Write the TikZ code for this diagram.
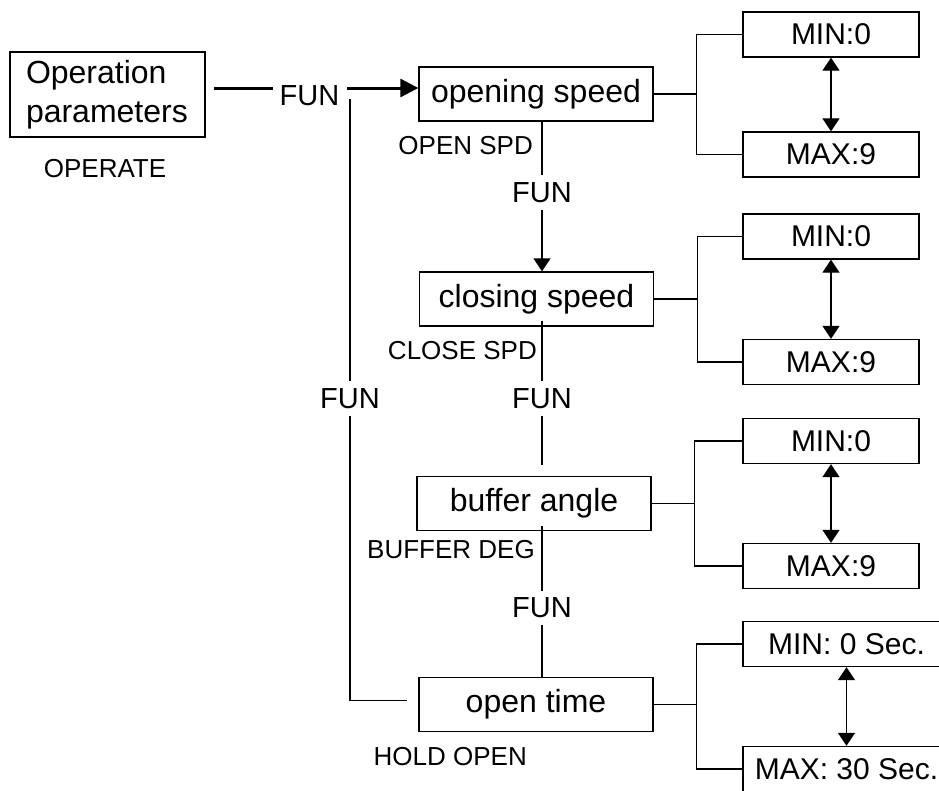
\documentclass[tikz,border=0pt]{standalone}
\usepackage{fontspec}
\setmainfont{Liberation Sans}
\usetikzlibrary{arrows.meta}
\usetikzlibrary{calc}
\tikzset{plainbox/.style = {draw, line width=1.3pt, inner sep=0},
  stepbox/.style = {plainbox, minimum width=234pt, minimum height=54pt, font=\fontsize{32}{39}\selectfont},
  limbox/.style = {plainbox, minimum width=176pt, minimum height=45pt, font=\fontsize{30}{36}\selectfont},
  lbl/.style = {inner sep=0, font=\fontsize{26}{31}\selectfont},
  fun/.style = {inner xsep=0, inner ysep=7pt, font=\fontsize{29}{35}\selectfont},
  wire/.style = {line width=1.2pt},
  heavy/.style = {line width=3pt},
  tip/.style = {-{Triangle[length=13pt,width=17pt]}},
  dbl/.style = {{Triangle[length=13pt,width=17pt]}-{Triangle[length=13pt,width=17pt]}}}

\begin{document}
\begin{tikzpicture}[x=1pt, y=-1pt]
  \useasboundingbox (0,0) rectangle (939,790);
  \clip (0,0) rectangle (939,790);

  \node [plainbox, minimum width=195pt, minimum height=85pt, text width=163pt, inner xsep=16pt,
    align=left, font=\fontsize{32}{39}\selectfont] (op) at (107.5,94.5) {Operation\\parameters};
  \node [lbl] (operate) at (105,169) {OPERATE};
  \node [fun, inner xsep=7pt] (fun1) at (309.5,96) {FUN};

  % main steps
  \node [stepbox] (opening) at (536,94) {opening speed};
  \node [stepbox] (closing) at (536.5,299) {closing speed};
  \node [stepbox] (buffer) at (534,503.5) {buffer angle};
  \node [stepbox] (opentime) at (536,704.5) {open time};

  \node [lbl, anchor=east] (openlbl) at (533,146) {OPEN SPD};
  \node [lbl, anchor=east] (closelbl) at (537,351) {CLOSE SPD};
  \node [lbl, anchor=east] (bufferlbl) at (535,550) {BUFFER DEG};
  \node [lbl, anchor=east] (holdlbl) at (527,757) {HOLD OPEN};

  \node [fun] (fun2) at (542,192.5) {FUN};
  \node [fun] (fun3) at (542,398.5) {FUN};
  \node [fun] (fun4) at (542,608) {FUN};
  \node [fun] (fun5) at (350,398.5) {FUN};

  % limits
  \node [limbox] (min1) at (831,34.5) {MIN:0};
  \node [limbox] (max1) at (831,154.5) {MAX:9};
  \node [limbox] (min2) at (831,236.5) {MIN:0};
  \node [limbox] (max2) at (831,362) {MAX:9};
  \node [limbox] (min3) at (831,441) {MIN:0};
  \node [limbox] (max3) at (831,566) {MAX:9};
  \node [limbox, minimum width=207pt] (min4) at (846.5,644) {MIN: 0 Sec.};
  \node [limbox, minimum width=207pt] (max4) at (846.5,769) {MAX: 30 Sec.};

  \draw [heavy, shorten <=8pt] ([yshift=6.5pt]op.east) -- ([yshift=8pt]fun1.west);
  \draw [heavy, -{Triangle[length=18pt,width=18pt]}] ([yshift=8pt]fun1.east) -- ([yshift=6pt]opening.west);

  \draw [wire] (opening.south -| fun2) -- (fun2.north);
  \draw [wire, tip] (fun2.south) -- (closing.north -| fun2);
  \draw [wire] ($(closing.south -| fun3)+(0,-6)$) -- (fun3.north);
  \draw [wire, shorten >=11pt] (fun3.south) -- (buffer.north -| fun3);
  \draw [wire] ($(buffer.south -| fun4)+(0,-5)$) -- (fun4.north);
  \draw [wire] (fun4.south) -- (opentime.north -| fun4);

  % back to the first step
  \coordinate (top) at (350,99);
  \draw [wire] (fun5.north) -- (top);
  \draw [wire, shorten >=11pt] (fun5.south) |- ([yshift=4pt]opentime.west);

  \foreach \s/\lo/\hi in {opening/min1/max1, closing/min2/max2, buffer/min3/max3, opentime/min4/max4} {
    \coordinate (j) at ([xshift=43pt]\s.east);
    \draw [wire] (\s.east) -- (j);
    \draw [wire] (\lo.west) -| (j) |- (\hi.west);
    \draw [wire, dbl] (\lo.south) -- (\hi.north);
  }
\end{tikzpicture}
\end{document}
